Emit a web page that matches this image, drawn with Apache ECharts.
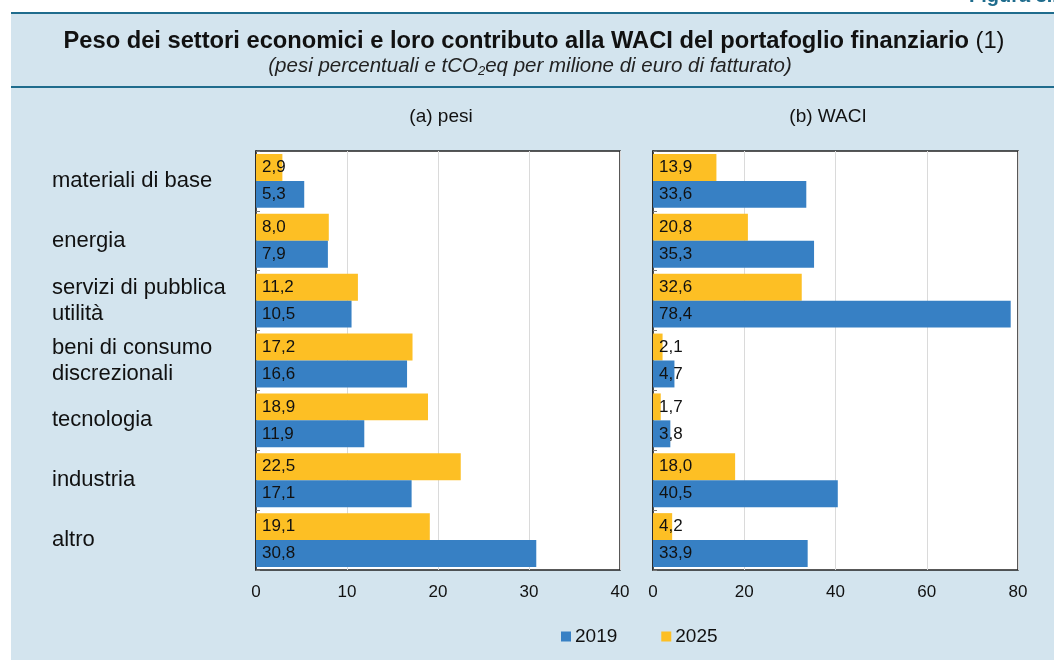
<!DOCTYPE html>
<html>
<head>
<meta charset="utf-8">
<script src="https://cdn.jsdelivr.net/npm/echarts@6/dist/echarts.min.js"></script>
<style>
html,body{margin:0;padding:0;background:#fff;}
#c{width:1054px;height:660px;}
</style>
</head>
<body>
<div id="c"></div>
<script>
const categories = ['materiali di base', 'energia', 'servizi di pubblica\nutilità', 'beni di consumo\ndiscrezionali', 'tecnologia', 'industria', 'altro'];
const pesi2019 = [5.3, 7.9, 10.5, 16.6, 11.9, 17.1, 30.8];
const pesi2025 = [2.9, 8.0, 11.2, 17.2, 18.9, 22.5, 19.1];
const waci2019 = [33.6, 35.3, 78.4, 4.7, 3.8, 40.5, 33.9];
const waci2025 = [13.9, 20.8, 32.6, 2.1, 1.7, 18.0, 4.2];
const seriesNames = ['2019', '2025'];
const panelTitles = ['(a) pesi', '(b) WACI'];

const FONT = '"Liberation Sans", Arial, sans-serif';
const BLUE = '#3780C4';
const YELLOW = '#FDBF24';
const TEAL = '#1F6C8D';

const chart = echarts.init(document.getElementById('c'), null, {renderer: 'canvas'});

const fmt = p => p.value.toFixed(1).replace('.', ',');
const lbl = {show: true, position: 'insideLeft', distance: 6, color: '#111', fontSize: 17, fontFamily: FONT, formatter: fmt};

function barSeries(name, data, idx, color) {
  return {
    name: name, type: 'bar', xAxisIndex: idx, yAxisIndex: idx, data: data,
    barCategoryGap: '10%', barGap: '0%',
    itemStyle: {color: color},
    label: lbl, z: 3
  };
}

const grids = [
  {left: 256, width: 364, top: 151, bottom: 90},
  {left: 653, width: 365, top: 151, bottom: 90}
];

const xLabel = {fontSize: 17, color: '#111', margin: 14, fontFamily: FONT};

const option = {
  backgroundColor: '#fff',
  animation: false,
  textStyle: {fontFamily: FONT},
  graphic: [
    {type: 'rect', z: -10, shape: {x: 11, y: 12, width: 1043, height: 648}, style: {fill: '#D3E4EE'}},
    {type: 'rect', z: -9, shape: {x: 11, y: 12, width: 1043, height: 2}, style: {fill: TEAL}},
    {type: 'rect', z: -9, shape: {x: 11, y: 86, width: 1043, height: 2}, style: {fill: TEAL}},
    {type: 'text', z: 5, left: 969, top: -14, style: {text: 'Figura 3.1', fill: TEAL, font: 'bold 20px ' + FONT}},
    {type: 'text', z: 5, x: 534, y: 41, style: {
      rich: {b: {font: 'bold 23.7px ' + FONT, fill: '#111'}, n: {font: '23.7px ' + FONT, fill: '#111'}},
      text: '{b|Peso dei settori economici e loro contributo alla WACI del portafoglio finanziario}{n| (1)}',
      textAlign: 'center', textVerticalAlign: 'middle'
    }},
    {type: 'text', z: 5, x: 530, y: 66, style: {
      rich: {i: {font: 'italic 20.5px ' + FONT, fill: '#222'}, s: {font: 'italic 13px ' + FONT, fill: '#222', padding: [11, 0, 0, 0]}},
      text: '{i|(pesi percentuali e tCO}{s|2}{i|eq per milione di euro di fatturato)}',
      textAlign: 'center', textVerticalAlign: 'middle'
    }},
    {type: 'text', z: 5, x: 441, y: 117, style: {text: panelTitles[0], font: '19px ' + FONT, fill: '#111', textAlign: 'center', textVerticalAlign: 'middle'}},
    {type: 'text', z: 5, x: 828, y: 117, style: {text: panelTitles[1], font: '19px ' + FONT, fill: '#111', textAlign: 'center', textVerticalAlign: 'middle'}}
  ],
  legend: {
    data: seriesNames, left: 556, top: 622, itemWidth: 10, itemHeight: 10, itemGap: 44,
    icon: 'rect', textStyle: {fontSize: 19, fontFamily: FONT, color: '#111', padding: [2, 0, 0, -1]}
  },
  grid: grids.map(g => Object.assign({show: true, backgroundColor: '#fff', borderColor: '#222', borderWidth: 1.5}, g)),
  xAxis: [
    {gridIndex: 0, type: 'value', min: 0, max: 40, interval: 10,
     axisLine: {show: false}, axisTick: {show: false},
     splitLine: {lineStyle: {color: '#DADADA', width: 1}},
     axisLabel: xLabel},
    {gridIndex: 1, type: 'value', min: 0, max: 80, interval: 20,
     axisLine: {show: false}, axisTick: {show: false},
     splitLine: {lineStyle: {color: '#DADADA', width: 1}},
     axisLabel: xLabel}
  ],
  yAxis: [
    {gridIndex: 0, type: 'category', data: categories, inverse: true,
     axisLine: {show: true, lineStyle: {color: '#222', width: 1.5}},
     axisTick: {show: true, inside: true, length: 4, lineStyle: {color: '#777'}},
     axisLabel: {show: true, align: 'left', margin: 204, fontSize: 22, lineHeight: 26, color: '#111', fontFamily: FONT, padding: [0, 0, 4, 0]}},
    {gridIndex: 1, type: 'category', data: categories, inverse: true,
     axisLine: {show: true, lineStyle: {color: '#222', width: 1.5}},
     axisTick: {show: true, inside: true, length: 4, lineStyle: {color: '#777'}},
     axisLabel: {show: false}}
  ],
  series: [
    barSeries('2025', pesi2025, 0, YELLOW),
    barSeries('2019', pesi2019, 0, BLUE),
    barSeries('2025', waci2025, 1, YELLOW),
    barSeries('2019', waci2019, 1, BLUE)
  ]
};
chart.setOption(option);
</script>
</body>
</html>
